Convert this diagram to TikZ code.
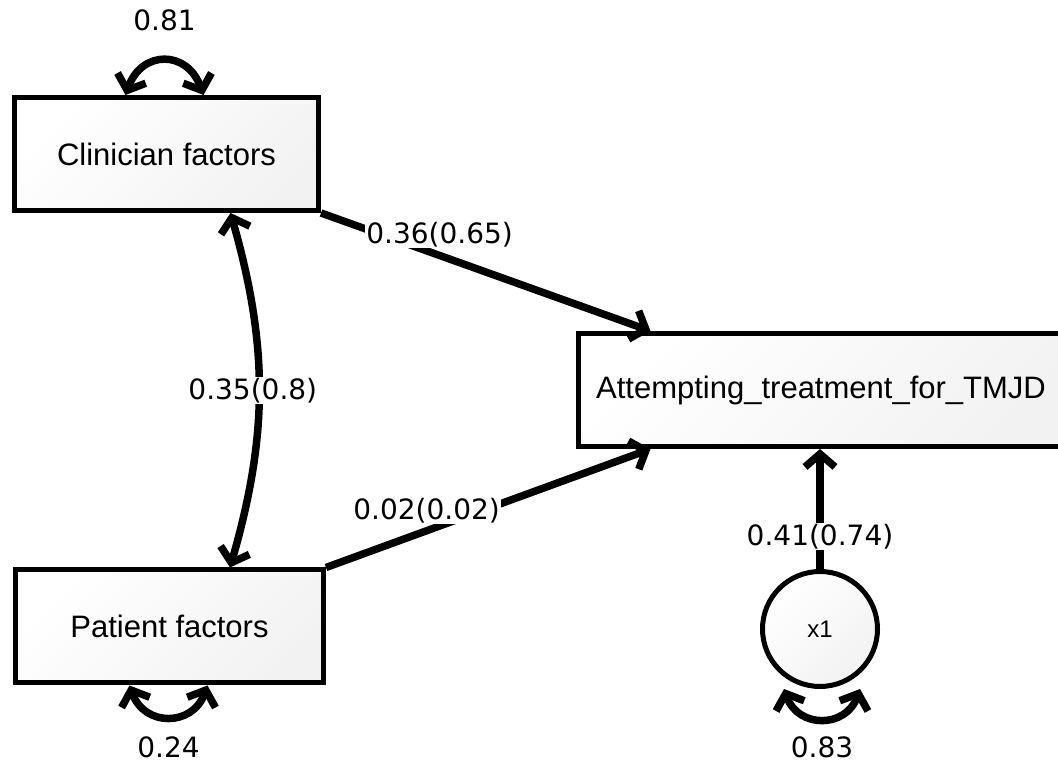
\documentclass[tikz,border=0pt]{standalone}
\usepackage{fontspec}
\setmainfont{Liberation Sans}
\newfontfamily\lblfont{DejaVu Sans}
\usepackage{tikz}
\usetikzlibrary{arrows.meta, positioning, calc}

\begin{document}
\begin{tikzpicture}[
  x=1pt, y=1pt,
  var/.style  = {rectangle, draw=black, line width=5pt,
                 top color=white, bottom color=black!5, shading angle=45,
                 font=\fontsize{31}{36}\selectfont,
                 minimum height=113pt, align=center},
  err/.style  = {circle, draw=black, line width=5pt,
                 top color=white, bottom color=black!5, shading angle=45,
                 font=\fontsize{24}{28}\selectfont, minimum size=115pt},
  arr/.style  = {-{Straight Barb[length=13pt,width=30pt]}, line width=7.5pt},
  arr2/.style = {{Straight Barb[length=13pt,width=30pt]}-{Straight Barb[length=13pt,width=30pt]},
                 line width=7.5pt},
  lbl/.style  = {font=\lblfont\fontsize{28}{32}\selectfont, fill=white, inner sep=1pt},
]
  \useasboundingbox (0,0) rectangle (1058,767);

  \node[var, minimum width=304pt] (clin) at (166.5,613) {Clinician factors};
  \node[var, minimum width=308pt] (pat) at (169.5,140.5) {Patient factors};
  \node[var, minimum width=486pt] (att) at (821,377) {Attempting\_treatment\_for\_TMJD};
  \node[err] (x1) at (820,138) {x1};

  \coordinate (attin1) at ([xshift=75pt]att.north west);
  \coordinate (attin2) at ([xshift=75pt]att.south west);

  \draw[arr] (clin.south east) -- node[lbl, pos=0.36, yshift=21pt] {0.36(0.65)} (attin1);
  \draw[arr] (pat.north east) -- node[lbl, pos=0.31, yshift=20pt] {0.02(0.02)} (attin2);
  \draw[arr] (x1.north) -- node[lbl, pos=0.27] {0.41(0.74)} (x1.north |- att.south);

  \draw[arr2] ([xshift=64pt]clin.south) to[bend left=16]
    node[lbl, xshift=-6pt] {0.35(0.8)} ([xshift=60.5pt]pat.north);

  % variances
  \draw[arr2] ([xshift=-41pt]clin.north) .. controls +(70:48) and +(110:48) ..
    ([xshift=37pt]clin.north) node[lbl, midway, yshift=41pt] {0.81};
  \draw[arr2] ([xshift=-40pt]pat.south) .. controls +(-70:44) and +(-110:44) ..
    ([xshift=38pt]pat.south) node[lbl, midway, yshift=-31pt] {0.24};
  \draw[arr2] ([xshift=-36pt]x1.south) .. controls +(-70:42) and +(-110:42) ..
    ([xshift=40pt]x1.south) node[lbl, midway, yshift=-29pt] {0.83};
\end{tikzpicture}
\end{document}
